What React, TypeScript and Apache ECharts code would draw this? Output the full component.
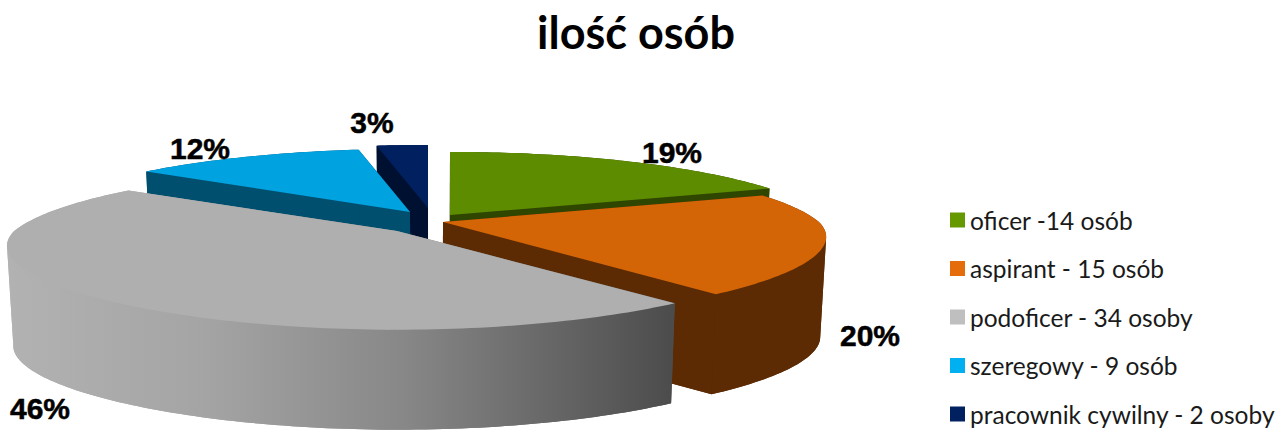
import React, { useEffect, useRef } from "react";
import * as echarts from "echarts";

const titleText = "ilość osób";
const categories = ["oficer -14 osób", "aspirant - 15 osób", "podoficer - 34 osoby", "szeregowy - 9 osób", "pracownik cywilny - 2 osoby"];
const values = [14, 15, 34, 9, 2];

const legendColors = ["#669900", "#e46c0a", "#bfbfbf", "#00b0f0", "#002060"];
const topColors = ["#5e8c00", "#d36507", "#afafaf", "#00a2e0", "#002060"];
const wallColors: any[] = [
  "#2f4600",
  "#5c2b03",
  {
    type: "linear", x: 8, y: 0, x2: 672, y2: 0, global: true,
    colorStops: [
      { offset: 0, color: "#b2b2b2" },
      { offset: 0.3, color: "#a4a4a4" },
      { offset: 0.6, color: "#878787" },
      { offset: 1, color: "#4c4c4c" },
    ],
  },
  "#004f6e",
  "#001030",
];
const drawOrder = [1, 4, 5, 3, 2]; // z of each slice: back slices first
const explosionPx = [[20, -3], [13, 4], [-33, 13], [-20, -6], [-2, -10]];
const widthScale = [1, 1, 1.018, 1, 1];
const labelCenters = [[672, 152], [870, 335], [40, 408], [200, 148], [372, 122]];

const CX = 430, CY = 218, RY = 77, PERSP = 0.22, DEPTH = 100, SHRINK = 0.985;

const total = values.reduce((a, b) => a + b, 0);
const widthAt = (v: number) => (v > 0 ? 376 - 92 * v + 19 * v * v : 376 - 75 * v);
const rimPoint = (t: number, dx: number, dy: number, k: number) => {
  const u = Math.sin(t), v = Math.cos(t);
  return [CX + dx + u * widthAt(v) * k, CY + dy - (v * RY) / (1 + PERSP * v)];
};
const lower = (p: number[]) => [CX + (p[0] - CX) * SHRINK, p[1] + DEPTH];

function renderSlice(index: number, value: number) {
  const before = values.slice(0, index).reduce((a, b) => a + b, 0);
  const t0 = (before / total) * Math.PI * 2;
  const t1 = ((before + value) / total) * Math.PI * 2;
  const [dx, dy] = explosionPx[index];
  const steps = Math.max(12, Math.ceil((t1 - t0) * 50));
  const rim: number[][] = [];
  for (let i = 0; i <= steps; i++) rim.push(rimPoint(t0 + ((t1 - t0) * i) / steps, dx, dy, widthScale[index]));
  const apex = [CX + dx, CY + dy];
  const first = rim[0], last = rim[rim.length - 1];
  const wall = wallColors[index];
  const poly = (points: number[][], fill: any) => ({ type: "polygon", shape: { points }, style: { fill } });

  // outer wall: split where the rim turns back in x, so each strip is a simple polygon
  const strips: number[][][] = [];
  let strip = [rim[0]];
  let dir = 0;
  for (let i = 1; i < rim.length; i++) {
    const d = Math.sign(rim[i][0] - rim[i - 1][0]);
    if (dir !== 0 && d !== 0 && d !== dir) {
      strips.push(strip);
      strip = [rim[i - 1]];
    }
    if (d !== 0) dir = d;
    strip.push(rim[i]);
  }
  strips.push(strip);

  return {
    type: "group",
    children: [
      poly([lower(apex), ...rim.map(lower)], wall),
      poly([apex, first, lower(first), lower(apex)], wall),
      poly([apex, last, lower(last), lower(apex)], wall),
      ...strips.map((s) => poly([...s, ...s.slice().reverse().map(lower)], wall)),
      poly([apex, ...rim], topColors[index]),
    ],
  };
}

export default function App() {
  const ref = useRef<HTMLDivElement>(null);
  useEffect(() => {
    const chart = echarts.init(ref.current!, undefined, { renderer: "svg" });
    chart.setOption({
      animation: false,
      backgroundColor: "#ffffff",
      title: {
        text: titleText,
        left: 636,
        top: 9,
        padding: 0,
        textAlign: "center",
        textStyle: { fontFamily: "Lato", fontWeight: "bold", fontSize: 45, color: "#000000" },
      },
      legend: {
        data: categories,
        orient: "vertical",
        left: 950,
        top: 207.5,
        padding: 0,
        itemWidth: 15,
        itemHeight: 15,
        itemGap: 23.5,
        icon: "rect",
        selectedMode: false,
        textStyle: { fontFamily: "Lato", fontSize: 24.5, color: "#1a1a1a" },
      },
      series: categories.map((name, i) => ({
        type: "custom",
        name,
        coordinateSystem: "none",
        z: drawOrder[i],
        data: [values[i]],
        itemStyle: { color: legendColors[i] },
        renderItem: (_p: any, api: any) => renderSlice(i, api.value(0)),
        silent: true,
      })),
      graphic: values.map((v, i) => ({
        type: "text",
        x: labelCenters[i][0],
        y: labelCenters[i][1],
        z: 20,
        style: {
          text: `${Math.round((v / total) * 100)}%`,
          fontFamily: "Liberation Sans",
          fontWeight: "bold",
          fontSize: 30,
          fill: "#000000",
          stroke: "#000000",
          lineWidth: 0.5,
          textAlign: "center",
          textVerticalAlign: "middle",
        },
      })),
    });
    return () => chart.dispose();
  }, []);
  return <div ref={ref} style={{ position: "absolute", left: 0, top: 0, width: 1278, height: 430 }} />;
}
